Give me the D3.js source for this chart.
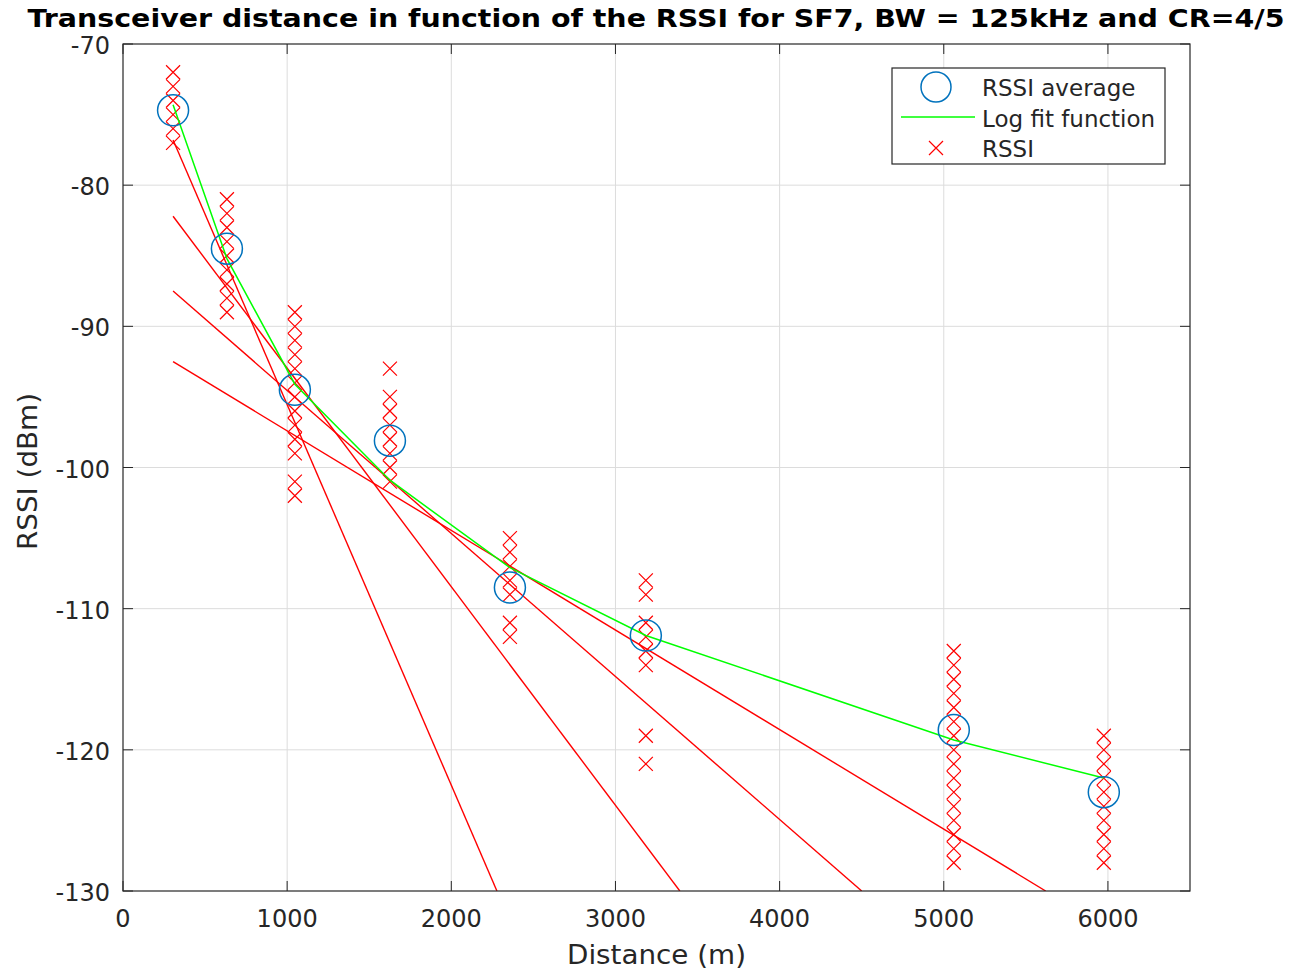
<!DOCTYPE html>
<html>
<head>
<meta charset="utf-8">
<script src="https://cdn.jsdelivr.net/npm/d3@7"></script>
<style>
  body { margin: 0; background: #fff; }
  svg { font-family: "DejaVu Sans", sans-serif; }
</style>
</head>
<body>
<svg id="chart" width="1293" height="971"></svg>
<script>
// Measured distances (m) of each test point
const distances = [305, 633, 1047, 1626, 2357, 3185, 5061, 5975];

// Individual RSSI samples (dBm) for each distance
const rssiSamples = [
  [-72, -73, -74, -75, -76, -77],
  [-81, -82, -83, -84, -85, -86, -87, -88, -89],
  [-89, -90, -91, -92, -93, -94, -95, -96, -97, -98, -99, -101, -102],
  [-93, -95, -96, -97, -98, -99, -100, -101],
  [-105, -106, -107, -108, -109, -111, -112],
  [-108, -109, -111, -112, -113, -114, -119, -121],
  [-113, -114, -115, -116, -117, -118, -119, -120, -121, -122, -123, -124, -125, -126, -127, -128],
  [-119, -120, -121, -122, -123, -124, -125, -126, -127, -128]
];

// Average RSSI per distance
const rssiAverage = [-74.7, -84.5, -94.5, -98.1, -108.5, -111.9, -118.6, -123.0];

// Log fit evaluated at each distance
const logFit = [-74.3, -85.2, -94.1, -100.9, -107.1, -111.9, -119.3, -122.0];

// Straight red reference lines: [start, end] as [distance, rssi]
const redLines = [
  [[305, -76.8], [2278, -130]],
  [[305, -82.2], [3392, -130]],
  [[305, -87.5], [4500, -130]],
  [[305, -92.5], [5621, -130]]
];

const xTicks = [0, 1000, 2000, 3000, 4000, 5000, 6000];
const yTicks = [-130, -120, -110, -100, -90, -80, -70];

const margin = { left: 123, right: 103, top: 44, bottom: 80 };
const W = 1293, H = 971;
const svg = d3.select('#chart');

const x = d3.scaleLinear().domain([0, 6500]).range([margin.left, W - margin.right]);
const y = d3.scaleLinear().domain([-130, -70]).range([H - margin.bottom, margin.top]);

const axisColor = '#262626';

// Grid
const grid = svg.append('g').attr('class', 'grid');
grid.selectAll('line.gx').data(xTicks.slice(1)).join('line')
  .attr('x1', d => x(d)).attr('x2', d => x(d))
  .attr('y1', y(-130)).attr('y2', y(-70))
  .attr('stroke', '#dcdcdc').attr('stroke-width', 1);
grid.selectAll('line.gy').data(yTicks.slice(1, -1)).join('line')
  .attr('x1', x(0)).attr('x2', x(6500))
  .attr('y1', d => y(d)).attr('y2', d => y(d))
  .attr('stroke', '#dcdcdc').attr('stroke-width', 1);

// Clip path for plotted data
svg.append('clipPath').attr('id', 'plot-clip')
  .append('rect')
  .attr('x', x(0)).attr('y', y(-70))
  .attr('width', x(6500) - x(0)).attr('height', y(-130) - y(-70));

const plot = svg.append('g').attr('clip-path', 'url(#plot-clip)');

// Red straight lines
const line = d3.line().x(d => x(d[0])).y(d => y(d[1]));
plot.selectAll('path.red').data(redLines).join('path')
  .attr('d', line)
  .attr('fill', 'none')
  .attr('stroke', '#ff0000')
  .attr('stroke-width', 1.4);

// RSSI crosses
const crossSize = 7;
const crossPath = (cx, cy) =>
  `M${cx - crossSize},${cy - crossSize}L${cx + crossSize},${cy + crossSize}` +
  `M${cx - crossSize},${cy + crossSize}L${cx + crossSize},${cy - crossSize}`;
const crossData = [];
distances.forEach((d, i) => rssiSamples[i].forEach(v => crossData.push([d, v])));
plot.selectAll('path.cross').data(crossData).join('path')
  .attr('d', d => crossPath(x(d[0]), y(d[1])))
  .attr('stroke', '#ff0000')
  .attr('stroke-width', 1.2)
  .attr('fill', 'none');

// Log fit (green)
plot.append('path')
  .datum(distances.map((d, i) => [d, logFit[i]]))
  .attr('d', line)
  .attr('fill', 'none')
  .attr('stroke', '#00ff00')
  .attr('stroke-width', 1.5);

// RSSI average circles
plot.selectAll('circle.avg').data(distances.map((d, i) => [d, rssiAverage[i]])).join('circle')
  .attr('cx', d => x(d[0])).attr('cy', d => y(d[1]))
  .attr('r', 15.5)
  .attr('fill', 'none')
  .attr('stroke', '#0072bd')
  .attr('stroke-width', 1.5);

// Axes box
svg.append('rect')
  .attr('x', x(0)).attr('y', y(-70))
  .attr('width', x(6500) - x(0)).attr('height', y(-130) - y(-70))
  .attr('fill', 'none').attr('stroke', axisColor).attr('stroke-width', 1.2);

const tickLen = 10;
// x ticks (bottom and top, inward)
const xAxis = svg.append('g').attr('class', 'x-axis');
xAxis.selectAll('line.tb').data(xTicks).join('line')
  .attr('x1', d => x(d)).attr('x2', d => x(d))
  .attr('y1', y(-130)).attr('y2', y(-130) - tickLen)
  .attr('stroke', axisColor);
xAxis.selectAll('line.tt').data(xTicks).join('line')
  .attr('x1', d => x(d)).attr('x2', d => x(d))
  .attr('y1', y(-70)).attr('y2', y(-70) + tickLen)
  .attr('stroke', axisColor);
xAxis.selectAll('text').data(xTicks).join('text')
  .attr('x', d => x(d)).attr('y', y(-130) + 36)
  .attr('text-anchor', 'middle')
  .attr('font-size', 24)
  .attr('fill', axisColor)
  .text(d => d);

// y ticks (left and right, inward)
const yAxis = svg.append('g').attr('class', 'y-axis');
yAxis.selectAll('line.tl').data(yTicks).join('line')
  .attr('x1', x(0)).attr('x2', x(0) + tickLen)
  .attr('y1', d => y(d)).attr('y2', d => y(d))
  .attr('stroke', axisColor);
yAxis.selectAll('line.tr').data(yTicks).join('line')
  .attr('x1', x(6500)).attr('x2', x(6500) - tickLen)
  .attr('y1', d => y(d)).attr('y2', d => y(d))
  .attr('stroke', axisColor);
yAxis.selectAll('text').data(yTicks).join('text')
  .attr('x', x(0) - 13).attr('y', d => y(d) + 10)
  .attr('text-anchor', 'end')
  .attr('font-size', 24)
  .attr('fill', axisColor)
  .text(d => d);

// Axis labels
svg.append('text')
  .attr('x', (x(0) + x(6500)) / 2).attr('y', 964)
  .attr('text-anchor', 'middle')
  .attr('font-size', 26)
  .attr('textLength', 179).attr('lengthAdjust', 'spacingAndGlyphs')
  .attr('fill', axisColor)
  .text('Distance (m)');
svg.append('text')
  .attr('transform', `translate(37, ${(y(-70) + y(-130)) / 2 + 4}) rotate(-90)`)
  .attr('text-anchor', 'middle')
  .attr('font-size', 26)
  .attr('textLength', 157).attr('lengthAdjust', 'spacingAndGlyphs')
  .attr('fill', axisColor)
  .text('RSSI (dBm)');

// Title
svg.append('text')
  .attr('x', 656).attr('y', 27)
  .attr('text-anchor', 'middle')
  .attr('font-size', 24)
  .attr('font-weight', 'bold')
  .attr('textLength', 1257).attr('lengthAdjust', 'spacingAndGlyphs')
  .attr('fill', '#000')
  .text('Transceiver distance in function of the RSSI for SF7, BW = 125kHz and CR=4/5');

// Legend
const lg = svg.append('g').attr('class', 'legend');
lg.append('rect')
  .attr('x', 892).attr('y', 68).attr('width', 273).attr('height', 96)
  .attr('fill', '#fff').attr('stroke', axisColor).attr('stroke-width', 1.2);
lg.append('circle')
  .attr('cx', 936).attr('cy', 87).attr('r', 15)
  .attr('fill', 'none').attr('stroke', '#0072bd').attr('stroke-width', 1.5);
lg.append('line')
  .attr('x1', 901).attr('x2', 975).attr('y1', 117).attr('y2', 117)
  .attr('stroke', '#00ff00').attr('stroke-width', 1.5);
lg.append('path')
  .attr('d', crossPath(936, 148))
  .attr('stroke', '#ff0000').attr('stroke-width', 1.2);
const legendLabels = ['RSSI average', 'Log fit function', 'RSSI'];
lg.selectAll('text').data(legendLabels).join('text')
  .attr('x', 982).attr('y', (d, i) => 96 + i * 30.5)
  .attr('font-size', 23)
  .attr('fill', axisColor)
  .text(d => d);
</script>
</body>
</html>
